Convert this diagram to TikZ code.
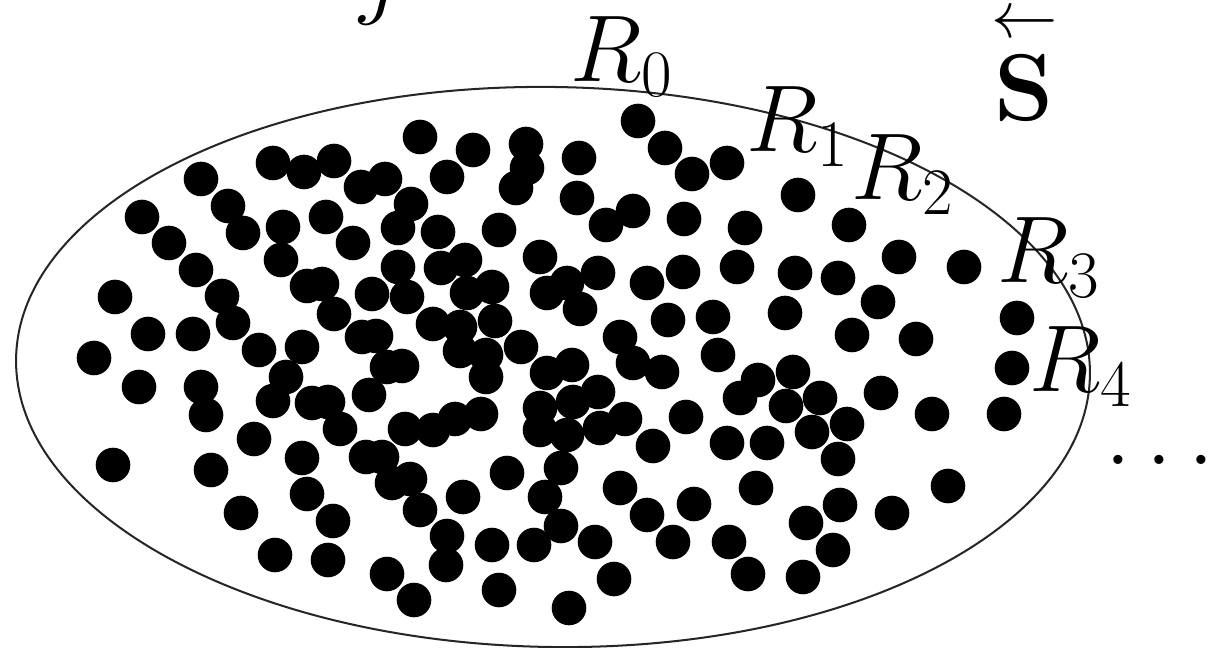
\RequirePackage{fix-cm}
\documentclass[tikz,border=0pt]{standalone}
\usepackage{amsmath}
\begin{document}
\begin{tikzpicture}[x=0.02cm,y=-0.02cm,
  particle/.style={fill=black},
  rim/.style={draw=black!85,line width=1.15pt},
  lab/.style={inner sep=0pt,font=\fontsize{54}{60}\selectfont},
  smalllab/.style={inner sep=0pt,font=\fontsize{37.8}{40}\selectfont}]
\useasboundingbox (0,0) rectangle (1214,648);
% boundary
\draw[rim,rotate around={-0.9:(553,367)}] (553,367) ellipse [x radius=537, y radius=280];
% particles
\foreach \x/\y in {
420/137,638/121,665/148,692/174,727/163,798/195,473/150,526/144,527/168,516/188,
447/177,579/158,577/198,606/225,633/211,684/219,745/228,438/232,499/230,540/257,
465/260,441/268,598/273,647/283,683/272,737/267,795/273,785/313,713/317,668/320,
620/337,547/293,567/283,580/309,492/287,467/293,495/321,460/327,433/324,
273/163,304/172,334/161,361/187,385/179,201/179,228/206,243/233,283/227,326/217,
353/243,398/228,142/217,169/243,196/270,281/260,307/286,322/284,334/314,372/294,
398/267,407/297,115/297,222/296,233/323,148/334,193/334,362/337,376/336,411/204,
94/358,259/350,302/347,387/367,402/366,286/377,139/387,201/387,206/415,273/401,
312/403,328/402,340/429,369/395,405/429,254/439,366/457,382/457,392/483,410/479,
420/510,302/458,113/465,211/470,307/494,333/521,241/513,275/555,328/560,387/574,
414/600,
460/351,486/355,521/347,486/377,547/373,572/365,540/408,540/430,573/402,598/392,
567/435,600/428,625/419,561/468,545/497,561/526,595/542,614/579,569/608,499/590,
534/545,492/545,447/536,446/565,463/497,507/473,433/430,455/419,481/414,620/488,
647/515,673/542,694/504,729/542,748/574,756/488,803/577,806/523,653/446,686/417,
727/443,767/443,812/432,740/398,758/380,793/372,786/406,718/355,633/363,662/372,
849/225,899/257,964/267,838/278,878/302,1017/318,852/335,916/339,1012/368,820/398,
881/393,932/414,1004/414,847/424,838/459,840/505,892/513,948/486,833/550}
  \fill[particle] (\x,\y) circle [radius=17.3];
% labels
\node[lab,anchor=base west] (j) at (359,7) {$j$};
\node[lab,anchor=base west] (r0) at (570,82) {$R_0$};
\node[lab,anchor=base west] (r1) at (746,152) {$R_1$};
\node[lab,anchor=base west] (r2) at (851,200) {$R_2$};
\node[lab,anchor=base west] (r3) at (997,283) {$R_3$};
\node[lab,anchor=base west] (r4) at (1029,392) {$R_4$};
\node[smalllab,anchor=base] (arr) at (1024.5,37.6) {$\leftarrow$};
\node[lab,anchor=base] (s) at (1024.5,121) {$\mathbf{S}$};
\node[lab,anchor=base west] (dots) at (1105,464) {$\ldots$};
\end{tikzpicture}
\end{document}
